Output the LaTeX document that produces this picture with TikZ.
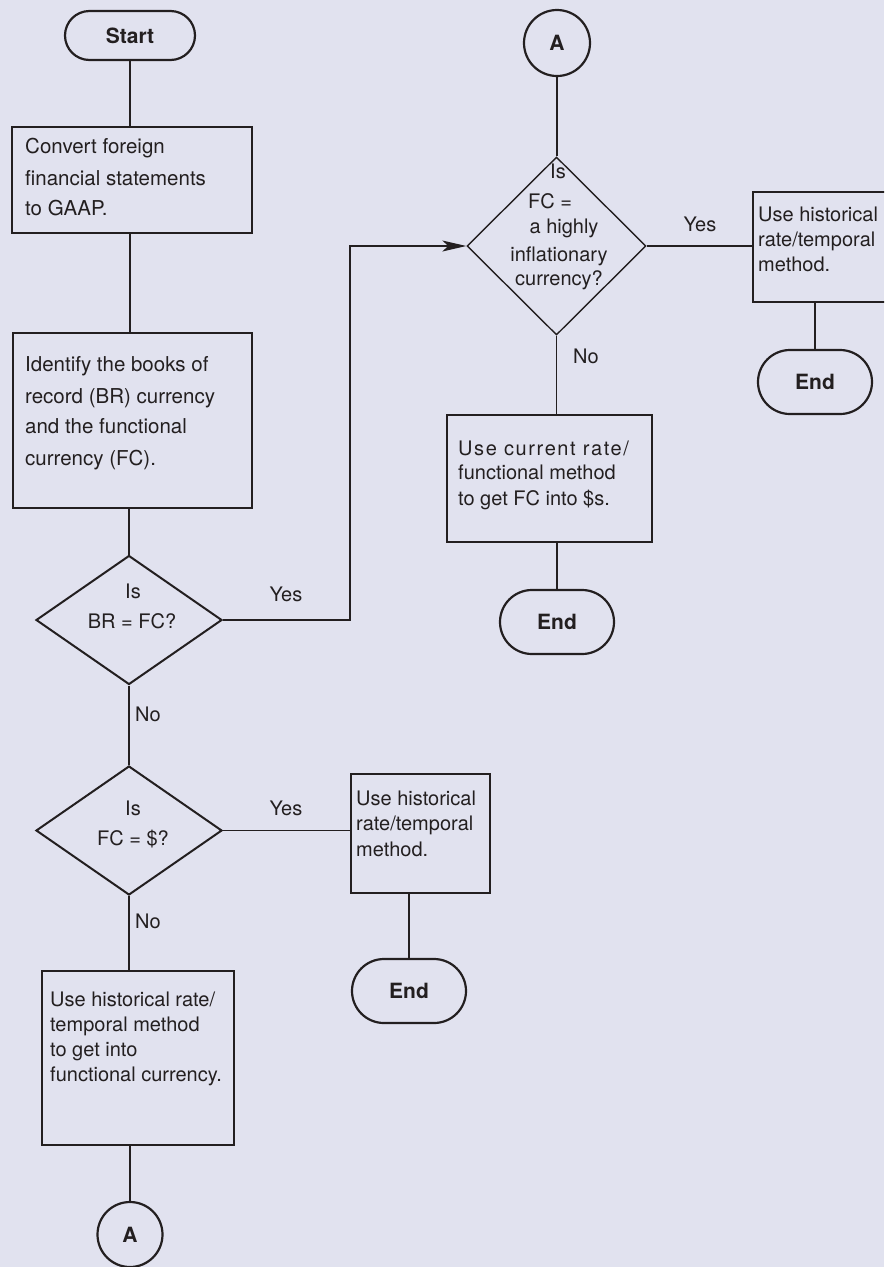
\documentclass[tikz,border=0pt]{standalone}
\usepackage{fontspec}
\setmainfont{TeX Gyre Heros}
\usetikzlibrary{shapes.geometric,arrows.meta}
\definecolor{bg}{HTML}{E1E2EF}
\definecolor{ink}{HTML}{231F20}
\newcommand\bigtxt{\fontsize{20.5}{24}\selectfont}
\newcommand\smalltxt{\fontsize{20}{24}\selectfont}
\newcommand\boldtxt{\fontsize{21}{24}\selectfont\bfseries}
\begin{document}
\begin{tikzpicture}[x=1pt,y=-1pt,
  conn/.style={draw=ink,line width=1.3pt},
  proc/.style={draw=ink,line width=1.4pt,rectangle,inner sep=0pt},
  term/.style={draw=ink,line width=2.2pt,rectangle,inner sep=0pt,
    minimum width=114pt,minimum height=64pt,rounded corners=32pt,font=\boldtxt,text=ink},
  conncircle/.style={draw=ink,line width=2.2pt,circle,inner sep=0pt,
    minimum size=66pt,font=\boldtxt,text=ink},
  decision/.style={draw=ink,line width=2pt,diamond,inner sep=0pt},
  ln/.style={anchor=west,inner sep=0pt,text=ink,text height=0.7em,text depth=0pt},
  bigln/.style={ln,font=\bigtxt},
  smln/.style={ln,font=\smalltxt},
  ctr/.style={inner sep=0pt,text=ink,text height=0.7em,text depth=0pt,font=\smalltxt},
  answer/.style={ctr}]
\useasboundingbox (0,0) rectangle (884,1267);
\fill[bg] (0,0) rectangle (884,1267);
\clip (0,0) rectangle (884,1267);

% --- shapes ---------------------------------------------------------
\node[term,minimum width=130pt,minimum height=49pt,rounded corners=24.5pt] (start) at (130,35.5) {Start};
\node[proc,minimum width=240pt,minimum height=106pt] (b1) at (132,180) {};
\node[proc,minimum width=239pt,minimum height=175pt] (b2) at (132.5,420.5) {};
\node[decision,minimum width=186pt,minimum height=129pt] (d1) at (129,620) {};
\node[decision,minimum width=186pt,minimum height=129pt] (d3) at (129,830.5) {};
\node[proc,minimum width=139pt,minimum height=119pt] (b5) at (420.5,833.5) {};
\node[term] (end3) at (409,991) {End};
\node[proc,minimum width=192pt,minimum height=174pt] (b6) at (138,1058) {};
\node[conncircle,minimum size=65pt] (a2) at (130,1234.5) {A};

\node[conncircle] (a1) at (557,43) {A};
\node[decision,line width=1.4pt,minimum width=179pt,minimum height=178pt] (d2) at (556.5,246) {};
\node[proc,minimum width=205pt,minimum height=127pt] (b4) at (549.5,478.5) {};
\node[term] (end1) at (557,622) {End};
\node[proc,minimum width=137pt,minimum height=110pt] (b3) at (821.5,247) {};
\node[term] (end2) at (815,382) {End};

% --- texts ----------------------------------------------------------
\node[bigln] (b1l1) at (25,150) {Convert foreign};
\node[bigln] (b1l2) at (25,182) {financial statements};
\node[bigln] (b1l3) at (25,212) {to GAAP.};

\node[bigln] (b2l1) at (25,368) {Identify the books of};
\node[bigln] (b2l2) at (25,400) {record (BR) currency};
\node[bigln] (b2l3) at (25,430) {and the functional};
\node[bigln] (b2l4) at (25,462) {currency (FC).};

\node[ctr] (d1l1) at (133,595) {Is};
\node[ctr] (d1l2) at (132,625) {BR = FC?};
\node[ctr] (d3l1) at (133,812) {Is};
\node[ctr] (d3l2) at (133,842) {FC = \$?};

\node[smln] (b5l1) at (356,802) {Use historical};
\node[smln] (b5l2) at (356,827) {rate/temporal};
\node[smln] (b5l3) at (356,853) {method.};

\node[smln] (b6l1) at (50,1003) {Use historical rate/};
\node[smln] (b6l2) at (50,1028) {temporal method};
\node[smln] (b6l3) at (50,1053) {to get into};
\node[smln] (b6l4) at (50,1078) {functional currency.};

\node[ctr] (d2l1) at (558,175) {Is};
\node[ctr] (d2l2) at (550,205) {FC =};
\node[ctr] (d2l3) at (564,230) {a highly};
\node[ctr] (d2l4) at (559,258) {inflationary};
\node[ctr] (d2l5) at (559,282) {currency?};

\node[smln] (b4l1) at (458,452) {\addfontfeature{LetterSpace=8}Use current rate/};
\node[smln] (b4l2) at (458,476) {functional method};
\node[smln] (b4l3) at (458,502) {to get FC into \$s.};

\node[smln] (b3l1) at (758,218) {Use historical};
\node[smln] (b3l2) at (758,243) {rate/temporal};
\node[smln] (b3l3) at (758,268) {method.};

% --- connectors -----------------------------------------------------
\draw[conn] (start.south) -- (start.south |- b1.north);
\draw[conn] (b1.south -| start.south) -- (start.south |- b2.north);
\draw[conn] (b2.south -| d1.north) -- (d1.north);
\coordinate (bend) at (350,620);
\draw[conn,-{Stealth[length=24pt,width=11pt,inset=6pt]}] (d1.east) -- (bend) |- (d2.west);
\draw[conn] (d1.south) -- (d3.north);
\draw[conn] (d3.east) -- (d3.east -| b5.west);
\draw[conn] (end3.north) -- (end3.north |- b5.south);
\draw[conn] (d3.south) -- (d3.south |- b6.north);
\draw[conn] (b6.south -| a2.north) -- (a2.north);

\draw[conn] (a1.south) -- (a1.south |- d2.north);
\draw[conn] (d2.east) -- (d2.east -| b3.west);
\draw[conn] (end2.north) -- (end2.north |- b3.south);
\draw[conn] (d2.south) -- (d2.south |- b4.north);
\draw[conn] (b4.south -| end1.north) -- (end1.north);

% --- answers --------------------------------------------------------
\node[answer] (y1) at (286,598) {Yes};
\node[answer] (n1) at (148,718) {No};
\node[answer] (y3) at (286,812) {Yes};
\node[answer] (n3) at (148,925) {No};
\node[answer] (y2) at (700,228) {Yes};
\node[answer] (n2) at (586,360) {No};
\end{tikzpicture}
\end{document}
